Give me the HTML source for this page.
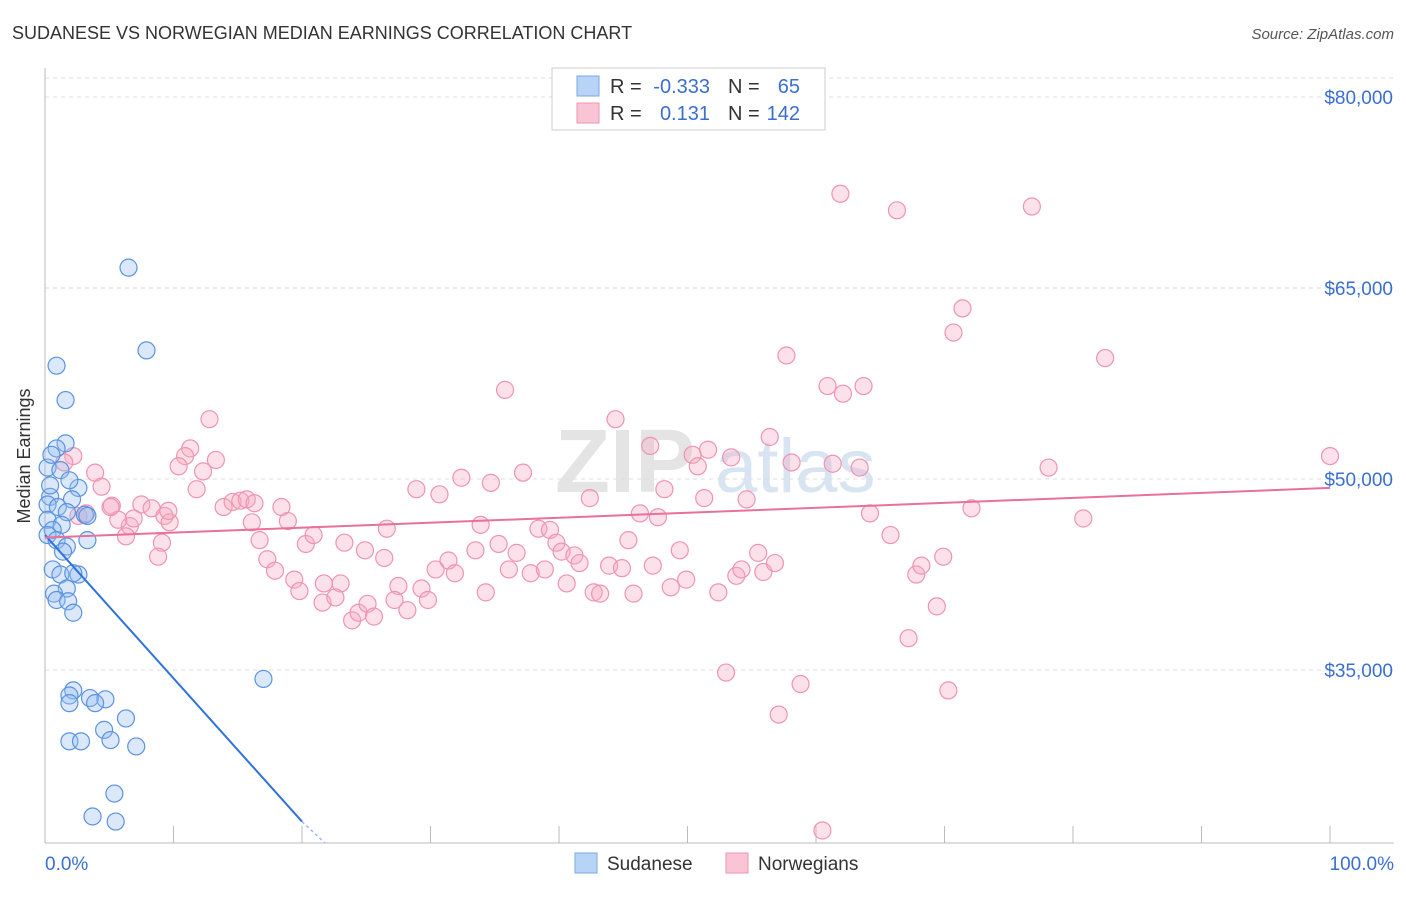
<!DOCTYPE html>
<html><head><meta charset="utf-8"><style>
body{margin:0;background:#fff;font-family:"Liberation Sans",sans-serif;}
svg text{font-family:"Liberation Sans",sans-serif;}
</style></head><body>
<svg id="c" width="1406" height="892" xmlns="http://www.w3.org/2000/svg">
<text x="12" y="39" font-size="18" fill="#333">SUDANESE VS NORWEGIAN MEDIAN EARNINGS CORRELATION CHART</text>
<text x="1394" y="39" font-size="15" fill="#555" font-style="italic" text-anchor="end">Source: ZipAtlas.com</text>
<text x="30" y="456" font-size="18" fill="#333" text-anchor="middle" transform="rotate(-90 30 456)">Median Earnings</text>
<g><text x="555" y="492" font-size="90" fill="#e4e4e4" font-family="Liberation Serif" font-weight="bold">ZIP</text><text x="715" y="492" font-size="76" fill="#d8e4f2">atlas</text></g>
<g id="grid"></g><g id="pts"></g><g id="lines"></g>
<g>
<rect x="552" y="68" width="273" height="62" fill="#fff" stroke="#ccc"/>
<rect x="577" y="76" width="22" height="20" fill="#b7d3f5" stroke="#7aaae8"/>
<rect x="577" y="103" width="22" height="20" fill="#f9c4d4" stroke="#ee94b0"/>
<text x="610" y="93" font-size="20" fill="#333">R =</text><text x="710" y="93" font-size="20" fill="#3a6fd0" text-anchor="end">-0.333</text>
<text x="728" y="93" font-size="20" fill="#333">N =</text><text x="800" y="93" font-size="20" fill="#3a6fd0" text-anchor="end">65</text>
<text x="610" y="120" font-size="20" fill="#333">R =</text><text x="710" y="120" font-size="20" fill="#3a6fd0" text-anchor="end">0.131</text>
<text x="728" y="120" font-size="20" fill="#333">N =</text><text x="800" y="120" font-size="20" fill="#3a6fd0" text-anchor="end">142</text>
</g>
<g>
<rect x="575" y="853" width="22" height="20" fill="#b7d3f5" stroke="#7aaae8"/><text x="607" y="870" font-size="19" fill="#333">Sudanese</text>
<rect x="726" y="853" width="22" height="20" fill="#f9c4d4" stroke="#ee94b0"/><text x="758" y="870" font-size="19" fill="#333">Norwegians</text>
</g>
<text x="45" y="870" font-size="19" fill="#3a6fd0">0.0%</text>
<text x="1394" y="870" font-size="19" fill="#3a6fd0" text-anchor="end">100.0%</text>
</svg>
<script>
const yTicks=[80000,65000,50000,35000];
const yTickLabels=["$80,000","$65,000","$50,000","$35,000"];
const xTicks=[0,10,20,30,40,50,60,70,80,90,100];
const sudX=[6.5,7.9,0.9,1.6,1.6,0.9,0.2,1.2,0.4,0.2,2.6,2.1,1.0,1.7,3.1,3.3,0.2,1.3,0.6,0.2,0.9,3.3,1.7,1.4,0.6,1.2,2.6,2.2,1.7,0.7,0.9,1.8,2.2,17.0,2.2,1.9,3.5,4.7,1.9,3.9,6.3,4.6,1.9,2.8,5.1,7.1,5.4,3.7,5.5,0.4,0.5,1.9];
const sudY=[66600,60100,58900,56200,52800,52400,50900,50700,48600,48000,49300,48400,47800,47400,47200,47100,46800,46400,46000,45600,45200,45200,44700,44300,42900,42500,42500,42600,41400,41000,40500,40400,39500,34300,33400,33000,32800,32700,32400,32400,31200,30300,29400,29400,29500,29000,25300,23500,23100,49500,51900,49900];
const norX=[61.9,66.3,76.8,71.4,70.7,57.7,82.5,35.8,60.9,63.7,62.1,12.8,44.4,47.1,56.4,51.6,50.4,53.4,50.8,58.1,61.3,63.4,78.1,37.2,32.4,34.7,48.2,28.9,30.7,42.4,51.3,54.6,11.3,10.9,13.3,10.4,12.3,3.9,2.2,1.5,4.4,11.8,7.5,8.3,9.3,5.2,13.9,14.6,15.2,15.7,16.3,18.4,18.9,16.1,6.6,6.9,9.7,6.3,5.7,5.1,2.6,3.2,26.6,33.9,38.4,39.3,46.3,47.7,64.2,65.8,16.7,20.3,20.9,23.3,24.9,26.4,33.5,35.3,36.7,39.8,40.2,41.2,45.4,49.4,55.5,9.1,8.8,17.3,17.9,19.4,19.8,21.7,23.0,21.6,22.6,23.9,24.4,25.1,25.6,27.5,27.2,28.2,29.3,29.8,30.4,31.4,31.9,34.3,36.1,37.8,38.9,40.6,41.6,42.7,43.2,43.9,44.9,45.8,47.3,48.7,49.9,52.4,53.8,54.2,55.9,56.8,67.2,67.8,68.2,69.4,69.9,53.0,58.8,57.1,70.3,60.5,80.8,72.1,100.0,9.6];
const norY=[72400,71100,71400,63400,61500,59700,59500,57000,57300,57300,56700,54700,54700,52600,53300,52300,51900,51700,51000,51300,51200,50900,50900,50500,50100,49700,49200,49200,48800,48500,48500,48400,52400,51800,51500,51000,50600,50500,51800,51300,49400,49200,48000,47700,47100,47900,47800,48200,48300,48400,48100,47800,46700,46600,46300,46900,46600,45500,46800,47800,47100,47300,46100,46400,46100,46000,47300,47000,47300,45600,45200,44900,45600,45000,44400,43800,44400,44900,44200,45000,44300,44000,45200,44400,44200,45000,43900,43700,42800,42100,41200,41800,41800,40300,40700,38900,39500,40200,39200,41600,40500,39700,41400,40500,42900,43600,42600,41100,42900,42600,42900,41800,43400,41100,41000,43200,43000,41000,43200,41500,42100,41100,42400,42900,42700,43400,37500,42500,43200,40000,43900,34800,33900,31500,33400,22400,46900,47700,51800,47500];
const sudLine=[0,45600,20,23100,21.8,21400];
const norLine=[0,45400,100,49300];
const NS="http://www.w3.org/2000/svg";
const X=p=>45+p*12.85, Y=v=>97+(80000-v)/78.53;
function mk(t,a,parent){const e=document.createElementNS(NS,t);for(const k in a)e.setAttribute(k,a[k]);document.getElementById(parent).appendChild(e);return e;}
yTicks.forEach((v,i)=>{
 const l=mk('line',{x1:45,x2:1394,y1:Y(v),y2:Y(v),stroke:'#ddd','stroke-dasharray':'4,4'},'grid');
 
 
 const t=mk('text',{x:1393,y:Y(v)+7,'font-size':19,fill:'#3a6fd0','text-anchor':'end'},'grid');t.textContent=yTickLabels[i];
 
 
});
const tl=mk('line',{x1:45,x2:1394,y1:78,y2:78,stroke:'#ddd','stroke-dasharray':'4,4'},'grid');


const ax=mk('line',{x1:45,x2:1394,y1:843,y2:843,stroke:'#bbb'},'grid');


const ay=mk('line',{x1:45,x2:45,y1:68,y2:843,stroke:'#bbb'},'grid');


xTicks.forEach(p=>{const l=mk('line',{x1:X(p),x2:X(p),y1:826,y2:843,stroke:'#bbb'},'grid');
 
 });
norX.forEach((p,i)=>{const c=mk('circle',{cx:X(p),cy:Y(norY[i]),r:8.5,fill:'rgba(246,170,195,0.35)',stroke:'#ee94b0','stroke-width':1.2},'pts');
 
 });
sudX.forEach((p,i)=>{const c=mk('circle',{cx:X(p),cy:Y(sudY[i]),r:8.5,fill:'rgba(150,190,240,0.35)',stroke:'#5b93e0','stroke-width':1.2},'pts');
 
 });
const bl=mk('line',{x1:X(sudLine[0]),y1:Y(sudLine[1]),x2:X(sudLine[2]),y2:Y(sudLine[3]),stroke:'#2f72db','stroke-width':2},'lines');


const bd=mk('line',{x1:X(sudLine[2]),y1:Y(sudLine[3]),x2:X(sudLine[4]),y2:Y(sudLine[5]),stroke:'#9bb8e8','stroke-width':1.5,'stroke-dasharray':'3,3'},'lines');


const pl=mk('line',{x1:X(norLine[0]),y1:Y(norLine[1]),x2:X(norLine[2]),y2:Y(norLine[3]),stroke:'#e8709a','stroke-width':2},'lines');


</script>
</body></html>
